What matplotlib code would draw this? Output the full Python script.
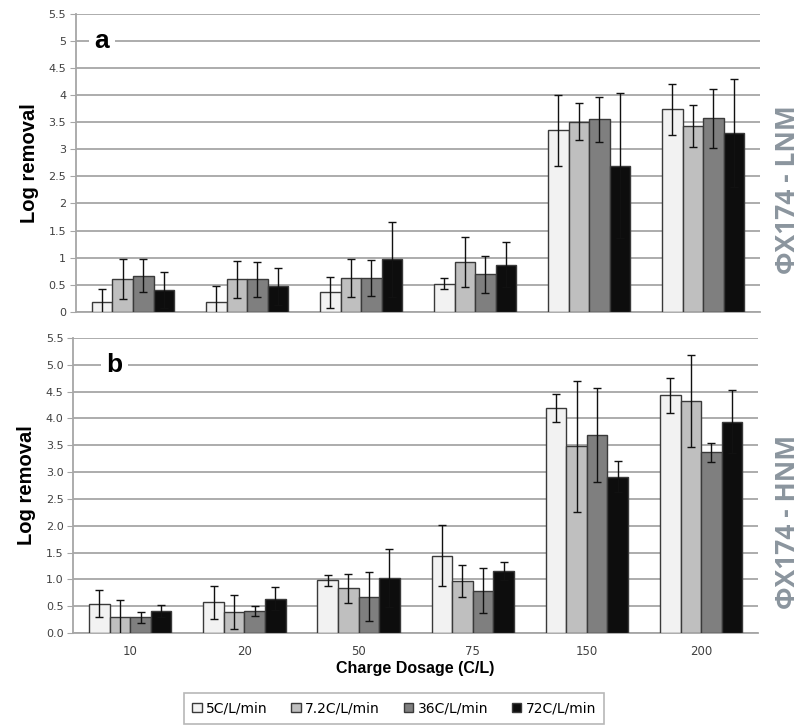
import matplotlib
matplotlib.use("Agg")
import matplotlib.pyplot as plt
import numpy as np

# Charge dosage categories (C/L)
dosages = ["10", "20", "50", "75", "150", "200"]
series = ["5C/L/min", "7.2C/L/min", "36C/L/min", "72C/L/min"]

# Panel a - LNM : mean log removal and error per series
lnm_5 = [0.19, 0.19, 0.36, 0.52, 3.35, 3.74]
lnm_72_flow = [0.60, 0.60, 0.62, 0.92, 3.51, 3.43]
lnm_36 = [0.67, 0.60, 0.63, 0.69, 3.55, 3.57]
lnm_72 = [0.41, 0.47, 0.97, 0.87, 2.70, 3.30]
lnm_5_err = [0.23, 0.29, 0.29, 0.10, 0.65, 0.47]
lnm_72_flow_err = [0.37, 0.34, 0.35, 0.46, 0.34, 0.39]
lnm_36_err = [0.31, 0.32, 0.33, 0.34, 0.42, 0.55]
lnm_72_err = [0.33, 0.34, 0.69, 0.42, 1.33, 1.00]

# Panel b - HNM
hnm_5 = [0.55, 0.57, 0.98, 1.44, 4.19, 4.43]
hnm_72_flow = [0.29, 0.39, 0.83, 0.97, 3.48, 4.32]
hnm_36 = [0.29, 0.41, 0.68, 0.79, 3.69, 3.37]
hnm_72 = [0.41, 0.64, 1.03, 1.15, 2.91, 3.94]
hnm_5_err = [0.26, 0.30, 0.11, 0.57, 0.26, 0.33]
hnm_72_flow_err = [0.33, 0.32, 0.27, 0.29, 1.22, 0.86]
hnm_36_err = [0.10, 0.09, 0.45, 0.42, 0.87, 0.18]
hnm_72_err = [0.11, 0.21, 0.54, 0.17, 0.29, 0.59]

colors = ["#f2f2f2", "#bfbfbf", "#7f7f7f", "#0d0d0d"]
grid_col = "#a6a6a6"
tick_col = "#404040"

fig = plt.figure(figsize=(8.04, 7.27), dpi=100)
ax_a = fig.add_axes([0.0945, 0.571, 0.851, 0.410])
ax_b = fig.add_axes([0.091, 0.1293, 0.852, 0.4057])

x = np.arange(len(dosages))
width = 0.18


def draw_panel(ax, means, errs, letter, letter_x, yfmt):
    for i, (m, e, c) in enumerate(zip(means, errs, colors)):
        pos = x + (i - 1.5) * width
        ax.bar(pos, m, width, color=c, edgecolor="#3a3a3a", linewidth=1.0,
               zorder=3, label=series[i])
        ax.errorbar(pos, m, yerr=e, fmt="none", ecolor="#111111",
                    elinewidth=1.0, capsize=3, capthick=1.0, zorder=4)
    ax.set_xlim(-0.5, len(dosages) - 0.5)
    ax.set_ylim(0, 5.5)
    ticks = np.arange(0, 5.51, 0.5)
    ax.set_yticks(ticks)
    ax.set_yticklabels([yfmt(t) for t in ticks], fontsize=8, color=tick_col)
    ax.yaxis.grid(True, color=grid_col, linewidth=1.3, zorder=0)
    ax.set_axisbelow(True)
    for s in ["top", "right"]:
        ax.spines[s].set_visible(False)
    for s in ["left", "bottom"]:
        ax.spines[s].set_color(grid_col)
        ax.spines[s].set_linewidth(1.3)
    ax.tick_params(axis="y", length=4, color=grid_col, pad=3)
    ax.tick_params(axis="x", length=0)
    ax.set_ylabel("Log removal", fontsize=14.5, fontweight="bold",
                  family="Liberation Sans", labelpad=7)
    ax.text(letter_x, 5.0, letter, transform=ax.get_yaxis_transform(),
            fontsize=19, fontweight="bold", family="Liberation Sans",
            ha="center", va="center", zorder=5,
            bbox=dict(facecolor="white", edgecolor="none", pad=4))


def fmt_general(t):
    return f"{t:g}"


def fmt_one(t):
    return f"{t:.1f}"


draw_panel(ax_a, [lnm_5, lnm_72_flow, lnm_36, lnm_72],
           [lnm_5_err, lnm_72_flow_err, lnm_36_err, lnm_72_err], "a", 0.038,
           fmt_general)
ax_a.set_xticks(x)
ax_a.set_xticklabels([])

draw_panel(ax_b, [hnm_5, hnm_72_flow, hnm_36, hnm_72],
           [hnm_5_err, hnm_72_flow_err, hnm_36_err, hnm_72_err], "b", 0.06,
           fmt_one)
ax_b.set_xticks(x)
ax_b.set_xticklabels(dosages, fontsize=8.5, color=tick_col)
ax_b.tick_params(axis="x", pad=9)
ax_b.set_xlabel("Charge Dosage (C/L)", fontsize=11.5, fontweight="bold",
                family="Liberation Sans", labelpad=2)

# Side labels
fig.text(0.980, 0.739, "ΦX174 - LNM", rotation=90, fontsize=19,
         fontweight="bold", family="Open Sans", color="#8b959e",
         ha="center", va="center")
fig.text(0.980, 0.282, "ΦX174 - HNM", rotation=90, fontsize=19,
         fontweight="bold", family="Open Sans", color="#8b959e",
         ha="center", va="center")

handles, labels = ax_b.get_legend_handles_labels()
leg = fig.legend(handles, labels, loc="upper left",
                 bbox_to_anchor=(184 / 804, (727 - 693) / 727), ncol=4,
                 fontsize=10, frameon=True, fancybox=False,
                 edgecolor="#a6a6a6", handlelength=0.7, handleheight=0.7,
                 handletextpad=0.3, columnspacing=1.7, borderpad=0.6,
                 borderaxespad=0)
leg.get_frame().set_linewidth(1.2)

fig.savefig("out.png", dpi=100)
